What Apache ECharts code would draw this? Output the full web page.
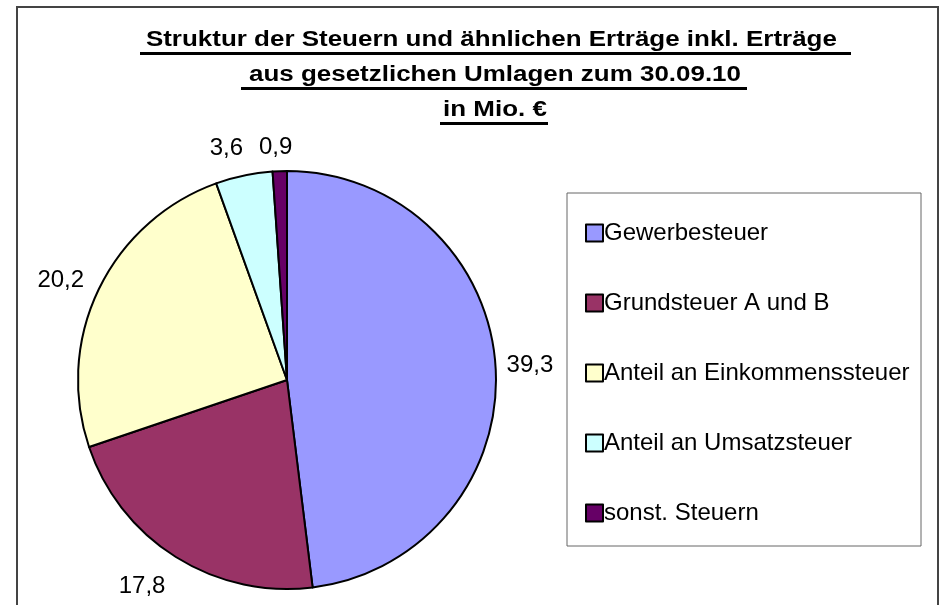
<!DOCTYPE html>
<html>
<head>
<meta charset="utf-8">
<script src="https://cdn.jsdelivr.net/npm/echarts@6/dist/echarts.min.js"></script>
<style>
  html, body { margin: 0; padding: 0; background: #fff; }
  #chart { width: 951px; height: 605px; }
</style>
</head>
<body>
<div id="chart"></div>
<script>
// Steuern 30.09.10, Werte in Mio. €
const categories = ['Gewerbesteuer', 'Grundsteuer A und B', 'Anteil an Einkommenssteuer', 'Anteil an Umsatzsteuer', 'sonst. Steuern'];
const values = [39.3, 17.8, 20.2, 3.6, 0.9];
const colors = ['#9999FF', '#993366', '#FFFFCC', '#CCFFFF', '#660066'];
const titleLines = [
    'Struktur der Steuern und ähnlichen Erträge inkl. Erträge ',
    'aus gesetzlichen Umlagen zum 30.09.10',
    'in Mio. €'
];
// kleine Verschiebung der Beschriftungen (wie im Excel-Original)
const labelShiftX = [-8, 2, 3, 7, 18];
const labelShiftY = [-1, 18, -3, -13, -10];

const FONT = 'Liberation Sans, Arial, sans-serif';

let chart = echarts.init(document.getElementById('chart'));

// Titel + Unterstreichungen
let titleY = [40, 75, 110];
let underline = [[140, 851], [241, 747], [440, 548]];
let graphics = [
    {   // äußerer Rahmen
        type: 'rect',
        shape: { x: 17, y: 7, width: 921, height: 610 },
        style: { fill: 'none', stroke: '#444', lineWidth: 2 },
        silent: true
    },
    {   // Legendenrahmen
        type: 'rect',
        shape: { x: 567, y: 193, width: 354, height: 353 },
        style: { fill: '#fff', stroke: '#666', lineWidth: 1 },
        silent: true,
        z: -1
    }
];
titleLines.forEach((t, i) => {
    graphics.push({
        type: 'text',
        x: 495,
        y: titleY[i],
        scaleX: 1.18,
        style: {
            text: t,
            font: 'bold 22px ' + FONT,
            fill: '#000',
            align: 'center',
            verticalAlign: 'middle'
        }
    });
    graphics.push({
        type: 'line',
        shape: { x1: underline[i][0], y1: titleY[i] + 13.5, x2: underline[i][1], y2: titleY[i] + 13.5 },
        style: { stroke: '#000', lineWidth: 3 }
    });
});

let option = {
    animation: false,
    backgroundColor: '#fff',
    color: colors,
    graphic: graphics,
    legend: {
        orient: 'vertical',
        left: 580,
        top: 216,
        itemGap: 46,
        itemWidth: 17,
        itemHeight: 17,
        icon: 'rect',
        itemStyle: { borderColor: '#000', borderWidth: 2 },
        textStyle: { fontFamily: FONT, fontSize: 24, color: '#000', padding: [0, 0, 0, -4] },
        data: categories
    },
    series: [
        {
            type: 'pie',
            center: [287, 380],
            radius: 209,
            startAngle: 90,
            clockwise: true,
            avoidLabelOverlap: false,
            itemStyle: { borderColor: '#000', borderWidth: 2 },
            label: {
                show: true,
                position: 'outside',
                fontFamily: FONT,
                fontSize: 24,
                color: '#000',
                formatter: (p) => String(p.value).replace('.', ',')
            },
            labelLine: { show: false, length: 14, length2: 0 },
            labelLayout: (p) => ({ dx: labelShiftX[p.dataIndex], dy: labelShiftY[p.dataIndex] }),
            data: categories.map((name, i) => ({ name: name, value: values[i] }))
        }
    ]
};
chart.setOption(option);
</script>
</body>
</html>
